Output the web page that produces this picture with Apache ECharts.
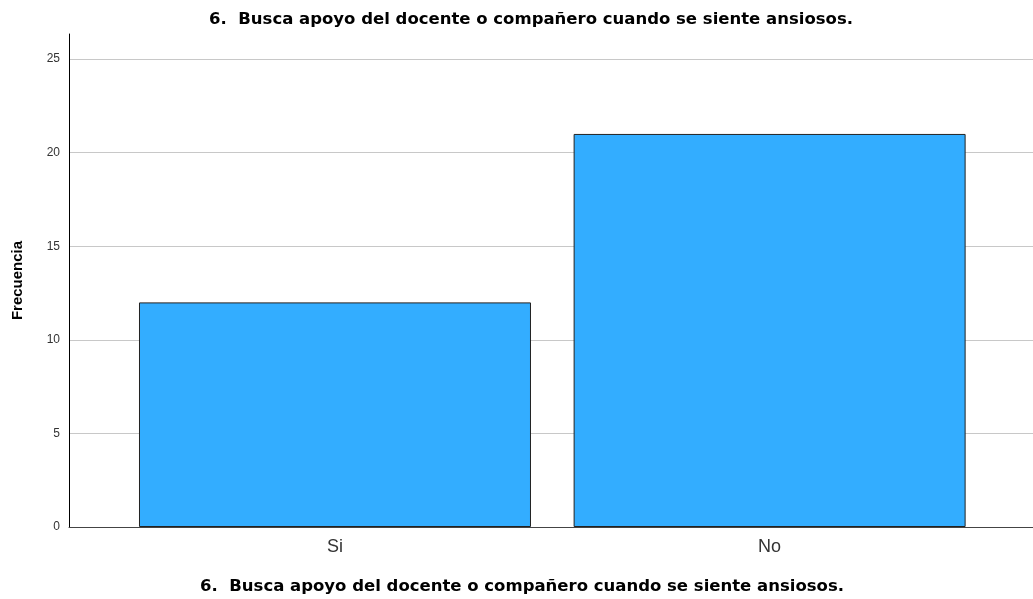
<!DOCTYPE html>
<html><head><meta charset="utf-8">
<script src="https://cdn.jsdelivr.net/npm/echarts@6/dist/echarts.min.js"></script>
<style>html,body{margin:0;padding:0;background:#fff}#c{width:1033px;height:599px}</style>
</head><body><div id="c"></div>
<script>
const titleText = '6.  Busca apoyo del docente o compañero cuando se siente ansiosos.';
const categories = ['Si', 'No'];
const frecuencia = [12, 21];
const yTicks = [0, 5, 10, 15, 20, 25];

const chart = echarts.init(document.getElementById('c'), null, {renderer: 'canvas'});
chart.setOption({
  animation: false,
  backgroundColor: '#fff',
  title: [
    {text: titleText, left: 526, top: 6, textAlign: 'center',
     textStyle: {fontFamily: 'DejaVu Sans', fontSize: 16.5, fontWeight: 'bold', color: '#000'}},
    {text: titleText, left: 517, top: 573, textAlign: 'center',
     textStyle: {fontFamily: 'DejaVu Sans', fontSize: 16.5, fontWeight: 'bold', color: '#000'}}
  ],
  grid: {left: 69, right: 0, top: 34, bottom: 72},
  xAxis: {
    type: 'value', min: -0.612, max: 1.606,
    axisLine: {show: true, onZero: false, lineStyle: {color: '#444', width: 1}},
    axisTick: {show: false},
    splitLine: {show: false},
    axisLabel: {customValues: [0, 1], formatter: v => categories[Math.round(v)] || '',
      fontFamily: 'Liberation Sans', fontSize: 18, color: '#333', margin: 11}
  },
  yAxis: {
    type: 'value', min: 0, max: 26.34,
    name: 'Frecuencia', nameLocation: 'middle', nameGap: 44,
    nameTextStyle: {fontFamily: 'Liberation Sans', fontSize: 15, fontWeight: 'bold', color: '#000'},
    axisLine: {show: true, onZero: false, lineStyle: {color: '#000', width: 1}},
    axisTick: {show: false, customValues: yTicks},
    axisLabel: {customValues: yTicks, fontFamily: 'Liberation Sans', fontSize: 12, color: '#333', margin: 9},
    splitLine: {show: true, lineStyle: {color: '#c8c8c8', width: 1}}
  },
  series: [{
    type: 'bar',
    data: frecuencia.map((v, i) => [i, v]),
    barWidth: 392,
    itemStyle: {color: '#33adff', borderColor: '#222', borderWidth: 1}
  }]
});
</script></body></html>
